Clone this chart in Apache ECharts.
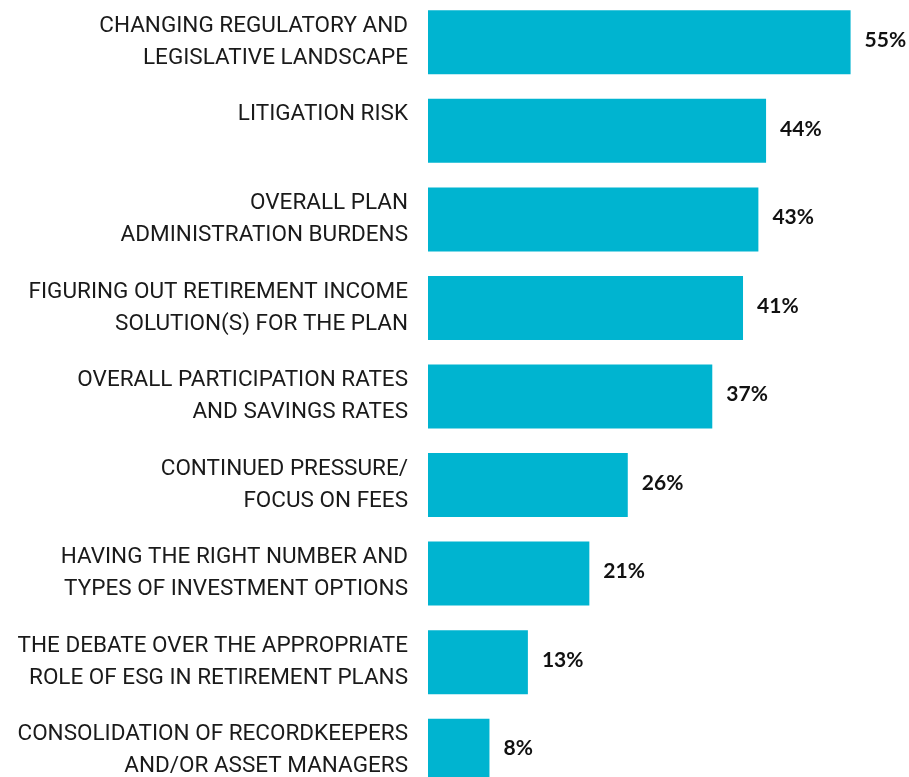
<!DOCTYPE html>
<html>
<head>
<meta charset="utf-8">
<script src="https://cdn.jsdelivr.net/npm/echarts@6/dist/echarts.min.js"></script>
<style>
  html, body { margin: 0; padding: 0; background: #fff; overflow: hidden; }
  #main { width: 909px; height: 800px; margin-top: -2px; }
</style>
</head>
<body>
<div id="main"></div>
<script>
  var categories = [
    'CHANGING REGULATORY AND\nLEGISLATIVE LANDSCAPE',
    'LITIGATION RISK\n ',
    'OVERALL PLAN\nADMINISTRATION BURDENS',
    'FIGURING OUT RETIREMENT INCOME\nSOLUTION(S) FOR THE PLAN',
    'OVERALL PARTICIPATION RATES\nAND SAVINGS RATES',
    'CONTINUED PRESSURE/\nFOCUS ON FEES',
    'HAVING THE RIGHT NUMBER AND\nTYPES OF INVESTMENT OPTIONS',
    'THE DEBATE OVER THE APPROPRIATE\nROLE OF ESG IN RETIREMENT PLANS',
    'CONSOLIDATION OF RECORDKEEPERS\nAND/OR ASSET MANAGERS'
  ];
  var values = [55, 44, 43, 41, 37, 26, 21, 13, 8];

  var chart = echarts.init(document.getElementById('main'));

  chart.setOption({
    animation: false,
    grid: { left: 428, width: 461, top: 0, height: 797 },
    xAxis: {
      type: 'value',
      min: 0,
      max: 60,
      show: false
    },
    yAxis: {
      type: 'category',
      inverse: true,
      data: categories,
      axisLine: { show: false },
      axisTick: { show: false },
      axisLabel: {
        margin: 20,
        fontFamily: 'Roboto',
        fontSize: 22.5,
        lineHeight: 32,
        color: '#1a1a1a',
        align: 'right'
      }
    },
    series: [{
      type: 'bar',
      data: values,
      barWidth: 64,
      itemStyle: { color: '#00b4d0' },
      label: {
        show: true,
        position: 'right',
        distance: 14,
        offset: [0, -2],
        formatter: '{c}%',
        fontFamily: 'Lato',
        fontWeight: 'bold',
        fontSize: 21,
        color: '#111'
      }
    }]
  });
</script>
</body>
</html>
